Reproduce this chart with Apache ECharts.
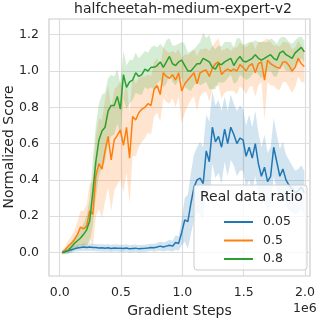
<!DOCTYPE html>
<html><head><meta charset="utf-8">
<script src="https://cdn.jsdelivr.net/npm/echarts@6/dist/echarts.min.js"></script>
<style>html,body{margin:0;padding:0;background:#fff}#c{width:319px;height:319px}</style>
</head><body><div id="c"></div>
<script>
// Gradient steps (units of 1e6)
const steps = [
0.02,0.045,0.07,0.095,0.12,0.145,0.17,0.195,0.22,0.245,
0.27,0.295,0.32,0.345,0.37,0.395,0.42,0.445,0.47,0.495,
0.52,0.545,0.57,0.595,0.62,0.645,0.67,0.695,0.72,0.745,
0.77,0.795,0.82,0.845,0.87,0.895,0.92,0.945,0.97,0.995,
1.02,1.045,1.07,1.095,1.12,1.145,1.17,1.195,1.22,1.245,
1.27,1.295,1.32,1.345,1.37,1.395,1.42,1.445,1.47,1.495,
1.52,1.545,1.57,1.595,1.62,1.645,1.67,1.695,1.72,1.745,
1.77,1.795,1.82,1.845,1.87,1.895,1.92,1.945,1.97,1.995];

const ratioNames = ['0.05', '0.5', '0.8'];

const mean005 = [
0.00,0.005,0.01,0.015,0.02,0.025,0.027,0.03,0.028,0.03,
0.028,0.027,0.025,0.026,0.024,0.026,0.022,0.025,0.024,0.023,
0.022,0.025,0.02,0.022,0.024,0.02,0.022,0.023,0.025,0.028,
0.026,0.03,0.035,0.03,0.035,0.04,0.035,0.055,0.05,0.11,
0.18,0.17,0.27,0.36,0.40,0.41,0.38,0.56,0.50,0.69,
0.61,0.64,0.58,0.68,0.60,0.69,0.65,0.60,0.63,0.62,
0.53,0.58,0.52,0.60,0.49,0.42,0.47,0.39,0.42,0.58,
0.50,0.42,0.46,0.40,0.37,0.35,0.33,0.34,0.36,0.33];
const spread005 = [
0.01,0.012,0.014,0.015,0.016,0.018,0.02,0.02,0.02,0.02,
0.02,0.02,0.02,0.02,0.02,0.02,0.02,0.02,0.02,0.02,
0.02,0.02,0.02,0.02,0.02,0.02,0.02,0.02,0.02,0.02,
0.022,0.022,0.025,0.025,0.025,0.03,0.03,0.04,0.04,0.07,
0.12,0.15,0.17,0.18,0.18,0.2,0.2,0.2,0.22,0.2,
0.2,0.2,0.2,0.18,0.18,0.18,0.17,0.18,0.18,0.17,
0.17,0.18,0.17,0.18,0.17,0.16,0.18,0.16,0.16,0.16,
0.15,0.15,0.15,0.14,0.14,0.13,0.12,0.12,0.12,0.12];

const mean05 = [
0.00,0.015,0.035,0.05,0.07,0.10,0.14,0.13,0.145,0.23,
0.21,0.42,0.49,0.46,0.56,0.64,0.51,0.62,0.645,0.675,
0.59,0.69,0.52,0.75,0.73,0.77,0.79,0.80,0.82,0.81,
0.90,0.92,0.87,0.99,0.97,0.96,0.98,0.95,0.99,0.89,
0.93,0.95,0.97,0.99,0.93,0.99,1.00,1.005,0.97,1.015,
1.04,1.05,0.98,1.00,1.01,1.00,1.01,1.00,1.035,1.02,
1.00,1.03,1.04,0.99,1.04,1.05,0.95,1.06,1.04,1.03,
1.02,1.015,1.05,1.05,1.03,1.00,1.02,1.07,1.04,1.025];
const spread05 = [
0.01,0.02,0.03,0.04,0.05,0.07,0.09,0.1,0.12,0.15,
0.18,0.22,0.25,0.27,0.28,0.28,0.28,0.28,0.27,0.27,
0.26,0.25,0.25,0.22,0.2,0.19,0.18,0.17,0.16,0.16,
0.15,0.15,0.15,0.14,0.14,0.14,0.13,0.15,0.13,0.18,
0.16,0.14,0.13,0.13,0.15,0.13,0.12,0.12,0.14,0.12,
0.12,0.13,0.13,0.12,0.12,0.11,0.12,0.13,0.12,0.12,
0.13,0.12,0.12,0.13,0.12,0.11,0.22,0.12,0.12,0.11,
0.12,0.12,0.11,0.11,0.12,0.12,0.11,0.1,0.1,0.09];

const mean08 = [
0.00,0.005,0.012,0.03,0.05,0.065,0.08,0.10,0.125,0.175,
0.33,0.50,0.62,0.67,0.69,0.78,0.81,0.81,0.86,0.79,
0.98,0.91,0.94,0.95,0.99,0.97,0.98,1.01,1.00,1.02,
1.02,1.03,1.05,1.02,1.05,1.08,1.04,1.03,1.05,1.06,
1.03,1.00,1.00,1.02,1.04,1.04,1.07,1.06,1.05,1.02,
1.01,1.04,1.035,1.05,1.06,1.07,1.03,1.06,1.08,1.055,
1.05,1.06,1.07,1.09,1.07,1.06,1.07,1.08,1.09,1.07,
1.06,1.10,1.11,1.09,1.08,1.07,1.10,1.115,1.13,1.105];
const spread08 = [
0.01,0.015,0.02,0.03,0.035,0.04,0.05,0.06,0.08,0.12,
0.18,0.2,0.2,0.2,0.19,0.18,0.17,0.16,0.15,0.14,
0.13,0.12,0.12,0.11,0.11,0.1,0.11,0.1,0.1,0.11,
0.12,0.1,0.1,0.11,0.12,0.1,0.1,0.11,0.1,0.1,
0.12,0.1,0.11,0.1,0.1,0.12,0.14,0.12,0.15,0.12,
0.11,0.1,0.1,0.11,0.1,0.09,0.1,0.12,0.1,0.09,
0.1,0.1,0.09,0.08,0.09,0.1,0.09,0.08,0.09,0.1,
0.09,0.08,0.08,0.09,0.08,0.08,0.07,0.07,0.06,0.06];

const xTicks = [0, 0.5, 1.0, 1.5, 2.0];
const yTicks = [0, 0.2, 0.4, 0.6, 0.8, 1.0, 1.2];

const colors = ['#1f77b4', '#ff7f0e', '#2ca02c'];
const means = [mean005, mean05, mean08];
const spreads = [spread005, spread05, spread08];
const FONT = 'DejaVu Sans';
const TXT = '#262626';

function bandSeries(k) {
  const m = means[k], s = spreads[k];
  return {
    type: 'custom', name: ratioNames[k] + ' band', silent: true, z: 1,
    coordinateSystem: 'cartesian2d', clip: true,
    data: steps.map((x, i) => [x, m[i] - s[i], m[i] + s[i]]),
    encode: { x: 0, y: [1, 2] },
    renderItem: function (params, api) {
      if (params.dataIndex !== 0) return;
      const top = [], bot = [];
      for (let i = 0; i < steps.length; i++) {
        top.push(api.coord([steps[i], m[i] + s[i]]));
        bot.push(api.coord([steps[i], m[i] - s[i]]));
      }
      return { type: 'polygon', shape: { points: top.concat(bot.reverse()) },
               style: { fill: colors[k], opacity: 0.2 } };
    }
  };
}
function lineSeries(k) {
  return {
    type: 'line', name: ratioNames[k], z: 3 + k, symbol: 'none', animation: false,
    data: steps.map((x, i) => [x, means[k][i]]),
    lineStyle: { color: colors[k], width: 1.5 }, itemStyle: { color: colors[k] }
  };
}

const chart = echarts.init(document.getElementById('c'), null, { renderer: 'canvas' });
chart.setOption({
  animation: false,
  backgroundColor: '#ffffff',
  grid: { left: 49, right: 9, top: 19, bottom: 43, containLabel: false, outerBoundsMode: 'none',
          show: true, borderColor: '#cccccc', borderWidth: 1.2, backgroundColor: 'transparent' },
  xAxis: {
    type: 'value', min: -0.087, max: 2.041,
    name: 'Gradient Steps', nameLocation: 'middle', nameGap: 26,
    nameTextStyle: { fontFamily: FONT, fontSize: 14, color: TXT },
    axisLine: { show: false },
    axisTick: { show: false, customValues: xTicks },
    axisLabel: { customValues: xTicks, formatter: v => v.toFixed(1), fontFamily: FONT, fontSize: 12.5, color: TXT, margin: 10 },
    splitLine: { show: true, lineStyle: { color: '#dddddd', width: 1.2 } }
  },
  yAxis: {
    type: 'value', min: -0.1295, max: 1.2865,
    axisLine: { show: false },
    axisTick: { show: false, customValues: yTicks },
    axisLabel: { customValues: yTicks, formatter: v => v.toFixed(1), fontFamily: FONT, fontSize: 12.5, color: TXT, margin: 10 },
    splitLine: { show: true, lineStyle: { color: '#dddddd', width: 1.2 } }
  },
  legend: {
    data: ratioNames, orient: 'vertical', left: 218, top: 210.5, z: 110,
    itemWidth: 29, itemHeight: 14, itemGap: 5.5,
    itemStyle: { opacity: 0 },
    textStyle: { fontFamily: FONT, fontSize: 12.5, color: TXT, padding: [0, 0, 0, 5] }
  },
  graphic: [
    { type: 'text', z: 100, style: { x: 183, y: 9, text: 'halfcheetah-medium-expert-v2', textAlign: 'center', textVerticalAlign: 'middle', font: '14px "DejaVu Sans"', fill: TXT } },
    { type: 'text', z: 100, x: 9.5, y: 147, rotation: Math.PI / 2, style: { x: 0, y: 0, text: 'Normalized Score', textAlign: 'center', textVerticalAlign: 'middle', font: '14px "DejaVu Sans"', fill: TXT } },
    { type: 'text', z: 100, style: { x: 293, y: 309, text: '1e6', textAlign: 'left', textVerticalAlign: 'middle', font: '12.5px "DejaVu Sans"', fill: TXT } },
    { type: 'rect', z: 100, shape: { x: 194, y: 185, width: 113, height: 85, r: 3 }, style: { fill: 'rgba(255,255,255,0.8)', stroke: '#cccccc', lineWidth: 1 } },
    { type: 'text', z: 101, style: { x: 200, y: 197.5, text: 'Real data ratio', textAlign: 'left', textVerticalAlign: 'middle', font: '14px "DejaVu Sans"', fill: TXT } }
  ],
  series: [bandSeries(0), bandSeries(1), bandSeries(2), lineSeries(0), lineSeries(1), lineSeries(2)]
});
</script></body></html>
